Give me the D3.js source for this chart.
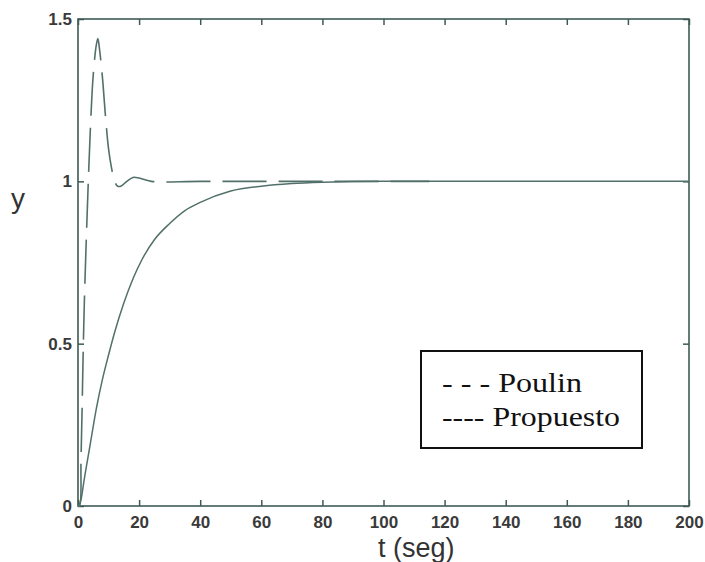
<!DOCTYPE html>
<html>
<head>
<meta charset="utf-8">
<script src="https://cdn.jsdelivr.net/npm/d3@7"></script>
<style>
  body { margin: 0; background: #fff; }
  svg { display: block; }
</style>
</head>
<body>
<div id="chart"></div>
<script>
// Poulin response (overshoot)
const poulinT = [0, 0.5, 1, 2, 3, 4, 5, 6, 6.5, 7, 8, 9, 10, 11, 12, 13, 14, 16, 18, 20, 24, 40, 80, 115];
const poulinY = [0, 0, 0.15, 0.6, 0.9, 1.15, 1.33, 1.42, 1.44, 1.41, 1.32, 1.2, 1.1, 1.04, 1.0, 0.985, 0.985, 1.0, 1.012, 1.01, 1.0, 1.0, 1.0, 1.0];

// Propuesto response (first order like)
const propT = [0, 1, 2, 4, 6, 8, 10, 12, 15, 18, 21, 25, 30, 35, 40, 50, 60, 70, 80, 100, 200];
const propY = [0, 0.02, 0.08, 0.19, 0.30, 0.39, 0.465, 0.535, 0.625, 0.70, 0.76, 0.82, 0.87, 0.91, 0.935, 0.97, 0.985, 0.993, 0.997, 1, 1];

const xTicks = [0, 20, 40, 60, 80, 100, 120, 140, 160, 180, 200];
const yTicks = [0, 0.5, 1, 1.5];
const legendLabels = ["- - - Poulin", "---- Propuesto"];
const legendWidths = [140, 178];

const W = 705, H = 562;
const mLeft = 78, mRight = 689, mTop = 19, mBottom = 506;
const ink = "#3f5a55", curve = "#52706a";

const svg = d3.select("#chart").append("svg")
    .attr("width", W)
    .attr("height", H)

const x = d3.scaleLinear().domain([0, 200]).range([mLeft, mRight]);
const y = d3.scaleLinear().domain([0, 1.5]).range([mBottom, mTop]);

// axes, ticks pointing in
svg.append("g")
    .attr("transform", "translate(0," + mBottom + ")")
    .call(d3.axisBottom(x).tickValues(xTicks).tickSize(-6).tickPadding(10))
svg.append("g")
    .attr("transform", "translate(0," + mTop + ")")
    .call(d3.axisTop(x).tickValues(xTicks).tickSize(-6).tickFormat(""))
svg.append("g")
    .attr("transform", "translate(" + mLeft + ",0)")
    .call(d3.axisLeft(y).tickValues(yTicks).tickSize(-6).tickPadding(6).tickFormat(d3.format("")))
svg.append("g")
    .attr("transform", "translate(" + mRight + ",0)")
    .call(d3.axisRight(y).tickValues(yTicks).tickSize(-6).tickFormat(""))

svg.selectAll(".domain").remove();
svg.selectAll(".tick line").attr("stroke", ink).attr("stroke-width", 1.5);
svg.selectAll(".tick text")
    .attr("fill", "#3a3a3a")
    .style("font-family", "Liberation Sans, Arial, sans-serif")
    .style("font-size", "17px")
    .style("font-weight", "bold");

svg.append("rect")
    .attr("x", mLeft).attr("y", mTop)
    .attr("width", mRight - mLeft).attr("height", mBottom - mTop)
    .attr("fill", "none")
    .attr("stroke", ink)
    .attr("stroke-width", 1.6);

const line = d3.line()
    .x(d => x(d[0]))
    .y(d => y(d[1]))
    .curve(d3.curveMonotoneX);

svg.append("path")
    .datum(propT.map((t, i) => [t, propY[i]]))
    .attr("d", line)
    .attr("fill", "none")
    .attr("stroke", curve)
    .attr("stroke-width", 1.5);

svg.append("path")
    .datum(poulinT.map((t, i) => [t, poulinY[i]]))
    .attr("d", d3.line().x(d => x(d[0])).y(d => y(d[1])).curve(d3.curveCatmullRom))
    .attr("fill", "none")
    .attr("stroke", curve)
    .attr("stroke-width", 1.6)
    .attr("stroke-dasharray", "44,12");

// axis titles
svg.append("text")
    .attr("x", 378).attr("y", 557)
    .attr("fill", "#333")
    .style("font-family", "Liberation Sans, Arial, sans-serif")
    .style("font-size", "27px")
    .text("t (seg)");

svg.append("text")
    .attr("x", 11).attr("y", 208)
    .attr("fill", "#333")
    .style("font-family", "Liberation Sans, Arial, sans-serif")
    .style("font-size", "28px")
    .text("y");

// legend
const lg = svg.append("g");
lg.append("rect")
    .attr("x", 421).attr("y", 351)
    .attr("width", 221).attr("height", 97)
    .attr("fill", "#fff")
    .attr("stroke", "#111")
    .attr("stroke-width", 2);
lg.selectAll("text")
    .data(legendLabels)
    .join("text")
    .attr("x", 442)
    .attr("y", (d, i) => 392 + i * 34)
    .attr("textLength", (d, i) => legendWidths[i])
    .attr("lengthAdjust", "spacingAndGlyphs")
    .attr("fill", "#111")
    .style("font-family", "Liberation Serif, Times New Roman, serif")
    .style("font-size", "27px")
    .text(d => d);
</script>
</body>
</html>
